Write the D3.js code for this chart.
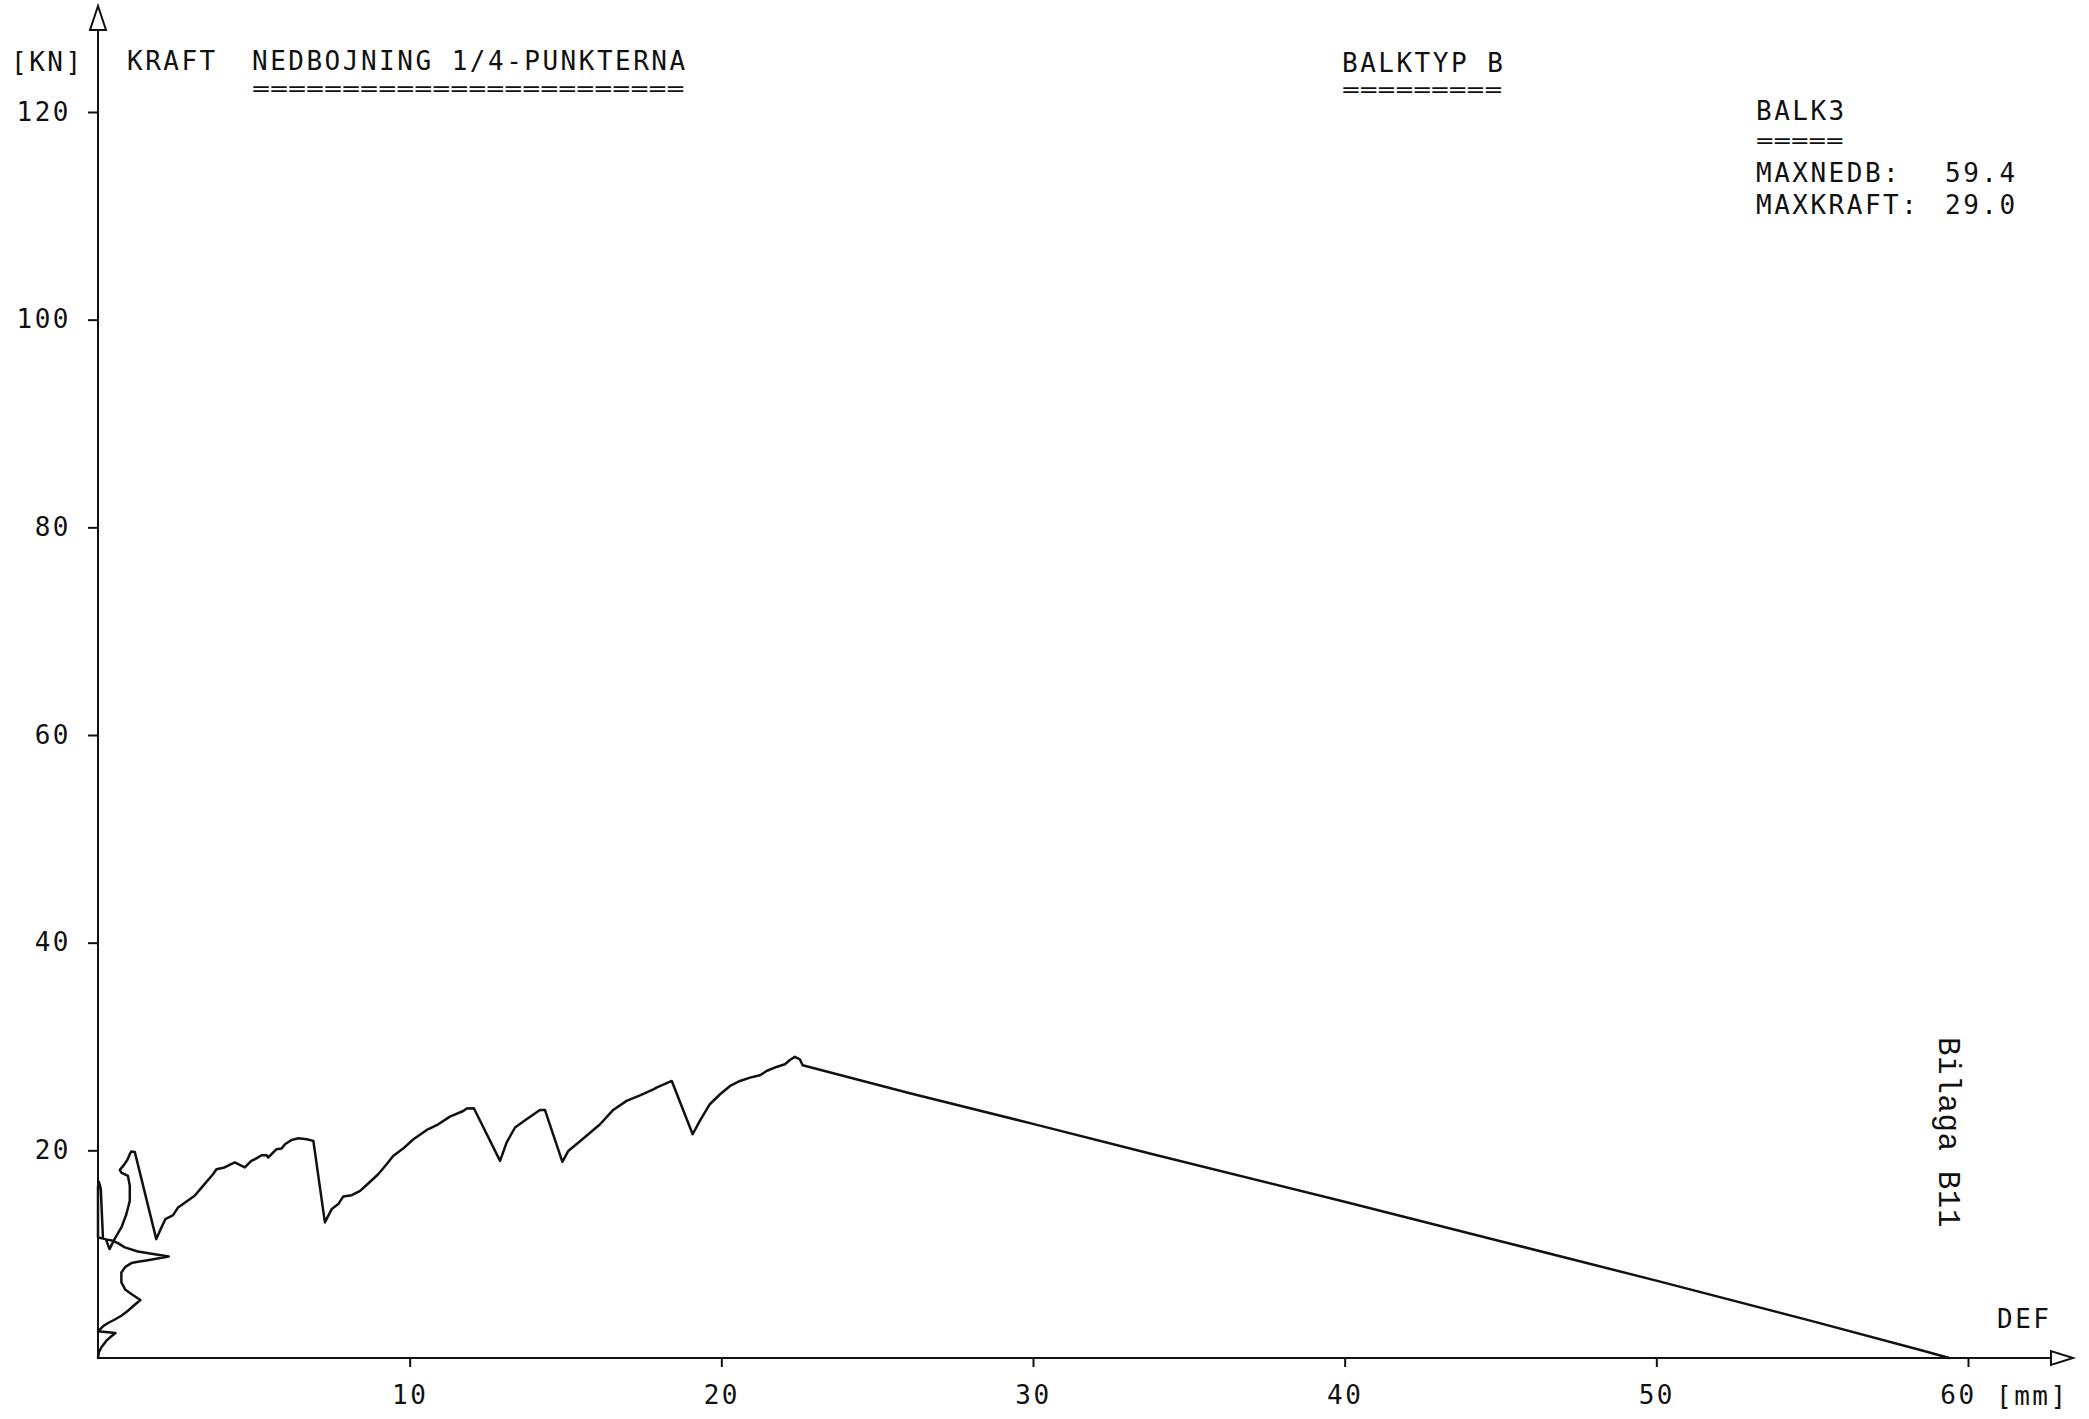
<!DOCTYPE html>
<html>
<head>
<meta charset="utf-8">
<script src="https://cdn.jsdelivr.net/npm/d3@7"></script>
<style>
  html, body { margin: 0; padding: 0; background: #fff; }
  svg { display: block; }
  .plot text { font-family: "DejaVu Sans Mono", monospace; font-size: 26px; fill: #111; letter-spacing: 2.5px; }
  .plot text.rule { font-size: 20px; letter-spacing: 0; }
  .plot text.stamp { font-family: "Liberation Mono", monospace; font-size: 31px; letter-spacing: 0.5px; }
</style>
</head>
<body>
<svg id="chart" width="2089" height="1419"></svg>
<script>
// Measured deflection at the quarter points [mm], in plotting order
const deflection = [
  0, 0.03, 0.11, 0.27, 0.43, 0.56, 0.0, 0.16, 0.32, 0.51, 0.75, 0.96, 1.18, 1.36,
  1.07, 0.88, 0.75, 0.75, 0.88, 1.07, 1.28, 1.55, 2.27, 1.82, 1.28, 0.86, 0.64, 0.48,
  0.30, 0.16, 0.09, 0.03, 0.0, 0.0, 0.25, 0.37, 0.53, 0.75, 0.91, 1.02, 1.02, 0.96,
  0.75, 0.70, 0.83, 0.94, 1.02, 1.07, 1.18, 1.87, 2.01, 2.16, 2.41, 2.57, 2.83, 3.10,
  3.37, 3.69, 3.80, 4.06, 4.39, 4.71, 4.92, 5.04, 5.25, 5.41, 5.46, 5.73, 5.89, 6.00,
  6.21, 6.43, 6.70, 6.91, 7.28, 7.36, 7.50, 7.71, 7.87, 8.14, 8.41, 8.67, 8.99, 9.26,
  9.47, 9.79, 10.12, 10.55, 10.87, 11.29, 11.72, 11.83, 12.06, 12.90, 13.11, 13.38,
  13.75, 14.18, 14.34, 14.90, 15.09, 15.57, 16.11, 16.53, 16.96, 17.39, 17.82, 17.92,
  18.41, 19.08, 19.31, 19.63, 19.96, 20.28, 20.60, 20.92, 21.24, 21.45, 21.77, 22.04,
  22.20, 22.36, 22.52, 22.61, 26.05, 30.0, 33.75, 40.0, 45.0, 50.0, 55.0, 58.5, 59.4
];
// Applied load [kN], one value per deflection reading
const force = [
  0, 0.55, 1.03, 1.67, 2.09, 2.41, 2.57, 3.05, 3.37, 3.66, 4.07, 4.55, 5.13, 5.58,
  6.16, 6.57, 7.28, 8.24, 8.78, 9.14, 9.27, 9.40, 9.78, 10.0, 10.26, 10.65, 11.06, 11.29,
  11.40, 11.5, 16.26, 16.96, 16.5, 11.6, 11.45, 10.49, 11.45, 12.57, 13.85, 15.13, 16.58, 17.54,
  17.86, 18.12, 18.57, 19.08, 19.63, 19.89, 19.85, 11.45, 12.41, 13.37, 13.76, 14.5, 15.04, 15.62,
  16.58, 17.7, 18.18, 18.35, 18.83, 18.35, 18.98, 19.15, 19.53, 19.53, 19.31, 20.11, 20.17, 20.59,
  21.0, 21.17, 21.07, 20.91, 13.06, 13.54, 14.34, 14.82, 15.56, 15.68, 16.1, 16.81, 17.7, 18.66,
  19.46, 20.17, 21.07, 21.96, 22.42, 23.25, 23.79, 24.02, 24.05, 18.98, 20.75, 22.2,
  22.99, 23.89, 23.89, 18.89, 19.94, 21.14, 22.51, 23.89, 24.76, 25.3, 25.88, 26.04,
  26.68, 21.55, 22.83, 24.44, 25.4, 26.2, 26.68, 27.0, 27.23, 27.64, 28.03, 28.29,
  28.7, 29.0, 28.77, 28.19, 25.5, 22.55, 19.7, 15.05, 11.25, 7.45, 3.55, 0.75, 0
];

const xTicks = [10, 20, 30, 40, 50, 60];
const yTicks = [20, 40, 60, 80, 100, 120];

const xDomain = [0, 60];
const yDomain = [0, 120];

const headerLeft = ["[KN]", "KRAFT"];
const title = "NEDBOJNING 1/4-PUNKTERNA";
const beamType = "BALKTYP B";
const beamName = "BALK3";
const summaryLabels = ["MAXNEDB:", "MAXKRAFT:"];
const summaryValues = ["59.4", "29.0"];
const xName = "DEF";
const xUnit = "[mm]";
const appendix = "Bilaga B11";

const svg = d3.select("#chart");
svg.append("rect").attr("width", 2089).attr("height", 1419).attr("fill", "#fff");

const g = svg.append("g").attr("class", "plot");

const x = d3.scaleLinear().domain(xDomain).range([98, 1968]);
const y = d3.scaleLinear().domain(yDomain).range([1358, 112]);

const ink = "#111";
const advance = 18.15; // character pitch of the plotter lettering

// Axis lines with open arrow heads
const x0 = x(0), y0 = y(0);
g.append("line").attr("x1", x0).attr("y1", y0).attr("x2", x0).attr("y2", 30)
  .attr("stroke", ink).attr("stroke-width", 2);
g.append("path").attr("d", `M${x0},6 L${x0 - 8},30 L${x0 + 8},30 Z`)
  .attr("fill", "#fff").attr("stroke", ink).attr("stroke-width", 2);
g.append("line").attr("x1", x0).attr("y1", y0).attr("x2", 2051).attr("y2", y0)
  .attr("stroke", ink).attr("stroke-width", 2);
g.append("path").attr("d", `M2073,${y0} L2051,${y0 - 7} L2051,${y0 + 7} Z`)
  .attr("fill", "#fff").attr("stroke", ink).attr("stroke-width", 2);

// Y axis ticks and labels
const yAxis = g.append("g").attr("transform", `translate(${x0},0)`)
  .call(d3.axisLeft(y).tickValues(yTicks).tickSize(10).tickPadding(17).tickFormat(d3.format("d")));
yAxis.select(".domain").remove();
yAxis.selectAll(".tick line").attr("stroke", ink).attr("stroke-width", 2);
yAxis.selectAll(".tick text").attr("fill", ink);

// X axis ticks and labels
const xAxis = g.append("g").attr("transform", `translate(0,${y0})`)
  .call(d3.axisBottom(x).tickValues(xTicks).tickSize(9).tickPadding(19).tickFormat(d3.format("d")));
xAxis.select(".domain").remove();
xAxis.selectAll(".tick line").attr("stroke", ink).attr("stroke-width", 2);
xAxis.selectAll(".tick text").attr("fill", ink)
  .attr("dx", d => d === 60 ? -10 : 0);
svg.selectAll(".plot g").attr("font-family", null).attr("font-size", null);

// Load–deflection curve
const pts = deflection.map((d, i) => [d, force[i]]);
g.append("path")
  .datum(pts)
  .attr("fill", "none")
  .attr("stroke", ink)
  .attr("stroke-width", 2.5)
  .attr("stroke-linejoin", "round")
  .attr("stroke-linecap", "round")
  .attr("d", d3.line().x(d => x(d[0])).y(d => y(d[1])));

// Header texts
function label(txt, px, py) {
  return g.append("text").attr("x", px).attr("y", py).text(txt);
}
// Double rule of "=" signs under a heading, same pitch as the heading
function rule(n, px, py) {
  return g.append("text").attr("class", "rule")
    .attr("x", px).attr("y", py)
    .attr("textLength", (n - 1) * advance + 15)
    .attr("lengthAdjust", "spacingAndGlyphs")
    .text("=".repeat(n));
}
label(headerLeft[0], 11, 71);
label(headerLeft[1], 127, 70);
label(title, 252, 70);
rule(title.length, 252, 95);
label(beamType, 1342, 72);
rule(beamType.length, 1342, 96);

label(beamName, 1756, 120);
rule(beamName.length, 1756, 147);
label(summaryLabels[0], 1756, 182);
label(summaryValues[0], 1945, 182);
label(summaryLabels[1], 1756, 214);
label(summaryValues[1], 1945, 214);

label(xName, 1997, 1328);
label(xUnit, 1996, 1405);

g.append("text").attr("class", "stamp")
  .attr("transform", "translate(1939,1037) rotate(90)")
  .text(appendix);
</script>
</body>
</html>
